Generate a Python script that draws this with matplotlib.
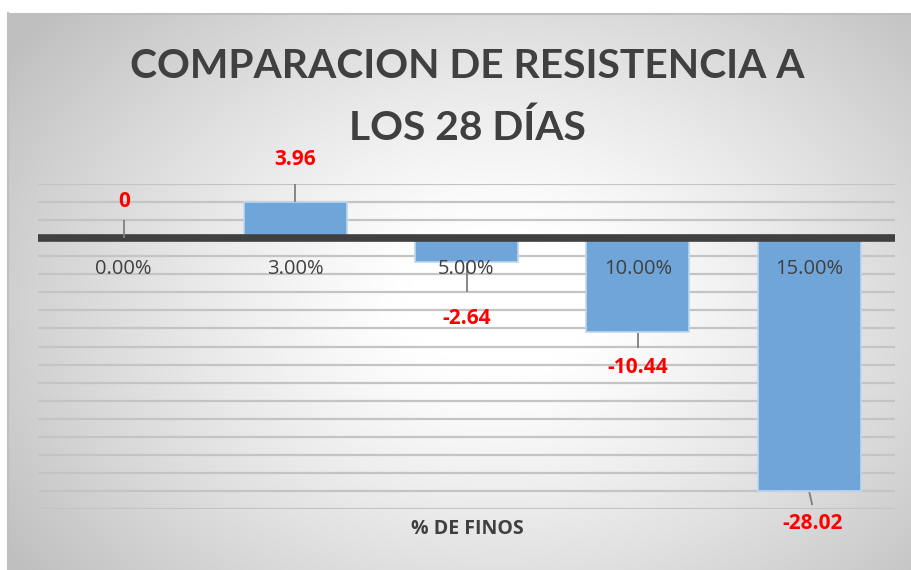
import numpy as np
import matplotlib
matplotlib.use("Agg")
import matplotlib.pyplot as plt

categories = ["0.00%", "3.00%", "5.00%", "10.00%", "15.00%"]
values = [0, 3.96, -2.64, -10.44, -28.02]
value_labels = ["0", "3.96", "-2.64", "-10.44", "-28.02"]
title_lines = ["COMPARACION DE RESISTENCIA A", "LOS 28 DÍAS"]
xlabel = "% DE FINOS"

W, H = 912, 570
fig = plt.figure(figsize=(W / 100, H / 100), dpi=100)
fig.patch.set_facecolor("white")

# background radial gradient panel
bg = fig.add_axes([8 / W, 0, 1 - 8 / W, 1 - 13 / H], zorder=0)
yy, xx = np.mgrid[0:557, 0:904]
cx, cy = 490, 290
r = np.sqrt(((xx - cx) / 600.0) ** 2 + ((yy - cy) / 440.0) ** 2)
g = 1.0 - 0.25 * np.clip((r - 0.15) / 0.85, 0, 1) ** 1.2
img = np.dstack([g, g, g])
bg.imshow(img, aspect="auto", extent=[0, 1, 0, 1], origin="upper")
bg.set_axis_off()
fig.add_artist(plt.Line2D([8 / W, 1], [1 - 13.5 / H, 1 - 13.5 / H], transform=fig.transFigure, color="#BFBFBF", lw=1.5))
fig.add_artist(plt.Line2D([8.5 / W, 8.5 / W], [0, 1 - 13 / H], transform=fig.transFigure, color="#BFBFBF", lw=1.5))

ax = fig.add_axes([38 / W, 1 - 509 / H, (895 - 38) / W, (509 - 184) / H], zorder=1)
ax.patch.set_alpha(0)
x = np.arange(len(categories))
ax.set_xlim(-0.5, len(categories) - 0.5)
ax.set_ylim(-30, 6)
for yv in np.arange(-30, 7, 2):
    if yv != 0:
        ax.axhline(yv, color="#C4C4C4", lw=1.6, zorder=1)
ax.bar(x, values, width=0.6, color="#6FA5D8", edgecolor="#BDD7EE", lw=1.2, zorder=2)
ax.axhline(0, color="#404040", lw=5.5, zorder=3)

# leader (start, end) and text-centre offsets in pixels from bar end
leader = [(0, 18), (0, 24), (-1, -30), (-1, -16), (-1, -14)]
text_dy = [37, 43, -57, -35, -32]
text_dx = [0, 0, 0, 0, 3]

inv = ax.transData.inverted()
for xi, v in enumerate(values):
    p0 = ax.transData.transform((xi, v))
    s = inv.transform((p0[0], p0[1] + leader[xi][0]))
    e = inv.transform((p0[0] + text_dx[xi], p0[1] + leader[xi][1]))
    ax.plot([s[0], e[0]], [s[1], e[1]], color="#7F7F7F", lw=1.3, zorder=4,
            solid_capstyle="butt")
    ax.annotate(value_labels[xi], xy=(xi, v), xytext=(text_dx[xi], text_dy[xi]),
                textcoords="offset pixels", ha="center", va="center",
                color="#FF0000", fontsize=15, fontweight="bold",
                family="Open Sans", zorder=5)

ax.set_xticks(x)
ax.set_xticklabels([])
for xi, cat in enumerate(categories):
    ax.annotate(cat, xy=(xi, 0), xytext=(0, -31), textcoords="offset pixels",
                ha="center", va="center", color="#404040", fontsize=14.5,
                family="Open Sans", zorder=5)
ax.tick_params(length=0)
ax.set_yticks([])
for sp in ax.spines.values():
    sp.set_visible(False)

fig.text(467 / W, 1 - 529 / H, xlabel, ha="center", va="center", fontsize=14,
         fontweight="bold", color="#404040", family="Open Sans")
fig.text(467 / W, 1 - 66 / H, title_lines[0], ha="center", va="center", fontsize=29.3,
         fontweight="bold", color="#404040", family="Lato")
fig.text(467 / W, 1 - 128 / H, title_lines[1], ha="center", va="center", fontsize=29.3,
         fontweight="bold", color="#404040", family="Lato")

fig.savefig("out.png", dpi=100)
